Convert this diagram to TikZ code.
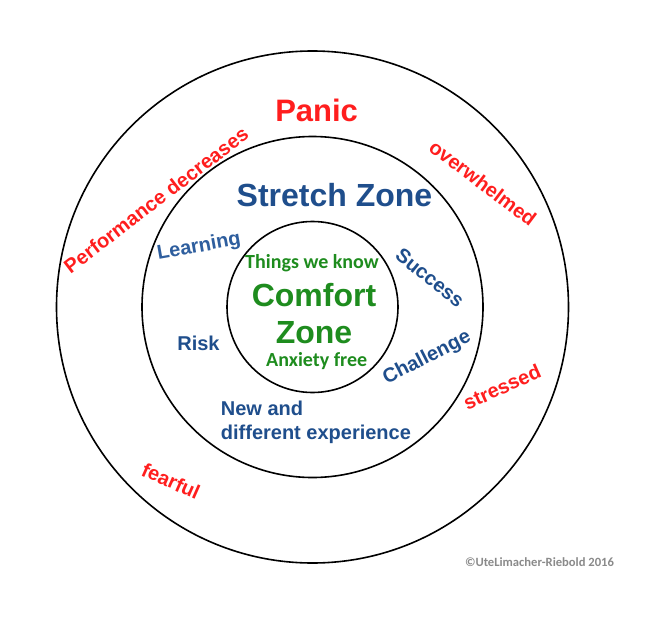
\documentclass[tikz,border=0pt]{standalone}
\usepackage{fontspec}
\setmainfont{Liberation Sans}
\newfontfamily\calfont{Carlito}
\definecolor{panicred}{HTML}{FF1E1E}
\definecolor{zoneblue}{HTML}{1F4E8C}
\definecolor{lightblue}{HTML}{2E5E9E}
\definecolor{zonegreen}{HTML}{1E8C1E}
\definecolor{copygray}{HTML}{8A8A8A}
\tikzset{
  ring/.style={draw=black, line width=1.6pt},
  bigred/.style={text=panicred, font=\fontsize{31}{36}\selectfont\bfseries, inner sep=0pt},
  red/.style={text=panicred, font=\fontsize{20}{24}\selectfont\bfseries, inner sep=0pt},
  bigblue/.style={text=zoneblue, font=\fontsize{32}{38}\selectfont\bfseries, inner sep=0pt},
  blue/.style={text=zoneblue, font=\fontsize{20}{24}\selectfont\bfseries, inner sep=0pt},
  lblue/.style={text=lightblue, font=\fontsize{20}{24}\selectfont\bfseries, inner sep=0pt},
  biggreen/.style={text=zonegreen, font=\fontsize{32}{38}\selectfont\bfseries, inner sep=0pt},
  green/.style={text=zonegreen, font=\calfont\fontsize{20}{24}\selectfont\bfseries, inner sep=0pt},
  copy/.style={text=copygray, font=\calfont\fontsize{12.6}{15}\selectfont\bfseries, inner sep=0pt}
}
\begin{document}
\begin{tikzpicture}[x=1pt,y=-1pt]
\useasboundingbox[fill=white] (0,0) rectangle (672,618);
\coordinate (c) at (312.5,307);
\draw[ring] (c) circle[radius=256pt];
\draw[ring] (c) circle[radius=170.5pt];
\draw[ring] (c) circle[radius=85.5pt];
% panic zone
\node[bigred, anchor=base] (panic) at (316.6,121.7) {Panic};
\node[red, rotate=37.4] (perf) at (156,200) {Performance decreases};
\node[red, rotate=-37] (over) at (483,183) {overwhelmed};
\node[red, rotate=24] (stress) at (502,387) {stressed};
\node[red, rotate=-24] (fear) at (171,481) {fearful};
% stretch zone
\node[bigblue, anchor=base] (stretch) at (334.5,206) {Stretch Zone};
\node[lblue, rotate=10] (learn) at (199,247) {Learning};
\node[blue, rotate=-39] (succ) at (430,278) {Success};
\node[blue, rotate=27] (chall) at (427,358) {Challenge};
\node[blue, anchor=base] (risk) at (198.5,350.7) {Risk};
\node[blue, anchor=base west] (new) at (220.7,415) {New and};
\node[blue, anchor=base west] (diff) at (220.7,439.3) {different experience};
% comfort zone
\node[green, anchor=base] (know) at (312,268.3) {Things we know};
\node[biggreen, anchor=base] (comf) at (314,306) {Comfort};
\node[biggreen, anchor=base] (zone) at (314,343.3) {Zone};
\node[green, anchor=base] (anx) at (316.7,366) {Anxiety free};
% copyright
\node[copy, anchor=base] (cr) at (539.5,566.7) {©UteLimacher-Riebold 2016};
\end{tikzpicture}
\end{document}
